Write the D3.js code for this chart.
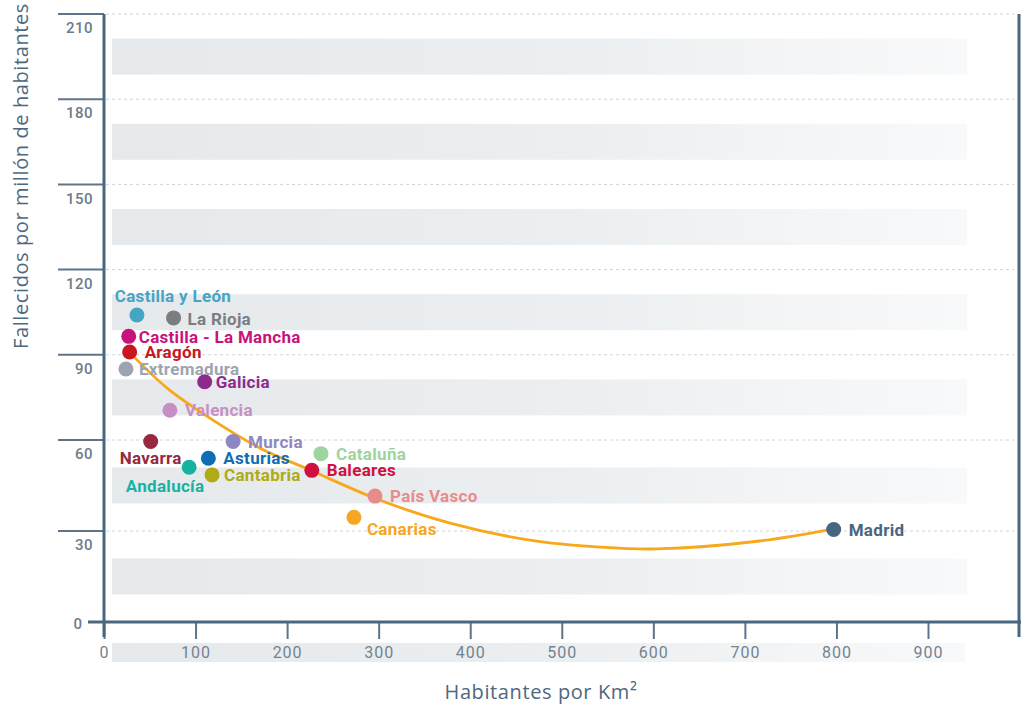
<!DOCTYPE html>
<html>
<head>
<meta charset="utf-8">
<script src="https://cdn.jsdelivr.net/npm/d3@7"></script>
<style>
  body { margin: 0; background: #fff; }
  svg { display: block; }
  .lbl { font-family: Roboto, sans-serif; font-weight: 700; font-size: 17px; letter-spacing: 0.3px; }
  .ytick { font-family: Roboto, sans-serif; font-weight: 500; font-size: 15px; fill: #6b7c8b; letter-spacing: 0.5px; }
  .xtick { font-family: Roboto, sans-serif; font-weight: 400; font-size: 16px; fill: #72838f; letter-spacing: 1px; }
  .title { font-family: "Open Sans", sans-serif; font-weight: 400; font-size: 20px; fill: #4e6880; letter-spacing: 0.6px; }
</style>
</head>
<body>
<svg id="chart" width="1024" height="707"></svg>
<script>
  // data
  var regions = ['Castilla y León', 'La Rioja', 'Castilla - La Mancha', 'Aragón', 'Extremadura',
    'Galicia', 'Valencia', 'Navarra', 'Murcia', 'Asturias', 'Andalucía', 'Cantabria',
    'Cataluña', 'Baleares', 'País Vasco', 'Canarias', 'Madrid'];
  var density = [36, 76, 27, 28, 24, 110, 72, 51, 141, 114, 93, 118, 237, 227, 296, 273, 797];
  var deaths = [104, 103, 96.5, 91, 85, 80.5, 70.5, 59.5, 59.5, 54, 51, 48.5, 55.5, 50, 41.5, 34.5, 30.5];

  // trend curve, points
  var trendX = [29, 70, 119, 170, 225, 301, 378, 465, 542, 604, 716, 797];
  var trendY = [90.5, 78, 67, 57.4, 50.1, 40.2, 32.6, 27, 24.7, 24.1, 26.7, 30.7];

  var xTicks = [0, 100, 200, 300, 400, 500, 600, 700, 800, 900];
  var yTicks = [30, 60, 90, 120, 150, 180, 210];

  var colors = {
    'Castilla y León': '#46a4c4', 'La Rioja': '#7b7d80', 'Castilla - La Mancha': '#c8127c',
    'Aragón': '#c8171e', 'Extremadura': '#9ba4b1', 'Galicia': '#8e2a8f', 'Valencia': '#c690c5',
    'Navarra': '#97283f', 'Murcia': '#8f87c1', 'Asturias': '#106db4', 'Andalucía': '#17b3a0',
    'Cantabria': '#b0aa17', 'Cataluña': '#9ed49d', 'Baleares': '#cf1141', 'País Vasco': '#e88b8b',
    'Canarias': '#f6a623', 'Madrid': '#486581'
  };

  // label offset from dot centre: [dx, dy, anchor]
  var placement = {
    'Castilla y León': [36, -19, 'middle'], 'Navarra': [0, 16, 'middle'],
    'Andalucía': [-24, 19, 'middle'], 'Canarias': [13, 12, 'start'],
    'Castilla - La Mancha': [10, 1, 'start'], 'Extremadura': [13, 0, 'start'],
    'Galicia': [11, 0, 'start'], 'Cantabria': [12, 0, 'start'], 'La Rioja': [14, 1, 'start']
  };
  var defaultPlacement = [15, 0, 'start'];

  var svg = d3.select('#chart');
  var axisColor = '#4b6680';

  var x = d3.scaleLinear().domain([0, 900]).range([104, 928]);
  // the original's grid is not evenly spaced at the bottom, so the scale is piecewise
  var y = d3.scaleLinear().domain([0, 30, 60, 210]).range([622, 531, 440, 14]);

  // gradient bands
  var grad = svg.append('defs').append('linearGradient')
      .attr('id', 'band').attr('x1', '0%').attr('x2', '100%');
  grad.append('stop').attr('offset', '0%').attr('stop-color', '#e5e9ec');
  grad.append('stop').attr('offset', '55%').attr('stop-color', '#eceff1');
  grad.append('stop').attr('offset', '100%').attr('stop-color', '#f8f9fa');

  var bandStarts = [0].concat(yTicks.slice(0, -1));
  svg.append('g').selectAll('rect')
      .data(bandStarts)
      .enter().append('rect')
      .attr('x', 112)
      .attr('width', 855)
      .attr('y', function (d) { return (y(d) + y(d + 30)) / 2 - 18; })
      .attr('height', 36)
      .attr('fill', 'url(#band)');

  // band behind the x tick labels
  svg.append('rect')
      .attr('x', 112).attr('y', 643).attr('width', 853).attr('height', 19)
      .attr('fill', 'url(#band)');

  // dotted grid lines
  svg.append('g').selectAll('line')
      .data(yTicks)
      .enter().append('line')
      .attr('x1', 106).attr('x2', 1014)
      .attr('y1', function (d) { return y(d); })
      .attr('y2', function (d) { return y(d); })
      .attr('stroke', '#cfd2d4')
      .attr('stroke-width', 1)
      .attr('stroke-dasharray', '3,3');

  // y tick marks and labels
  var yt = svg.append('g');
  yt.selectAll('line')
      .data(yTicks)
      .enter().append('line')
      .attr('x1', 58).attr('x2', 104)
      .attr('y1', function (d) { return y(d); })
      .attr('y2', function (d) { return y(d); })
      .attr('stroke', '#5d7489')
      .attr('stroke-width', 2);
  yt.selectAll('text')
      .data(yTicks)
      .enter().append('text')
      .attr('class', 'ytick')
      .attr('x', 93)
      .attr('y', function (d) { return y(d) + 14; })
      .attr('dy', '0.35em')
      .attr('text-anchor', 'end')
      .text(function (d) { return d; });
  yt.append('text')
      .attr('class', 'ytick')
      .attr('x', 78).attr('y', 624).attr('dy', '0.35em')
      .attr('text-anchor', 'middle')
      .text('0');

  // x axis
  var xAxis = d3.axisBottom(x).tickValues(xTicks).tickSize(17).tickPadding(0);
  var gx = svg.append('g')
      .attr('transform', 'translate(0,622)')
      .call(xAxis);
  gx.select('.domain').remove();
  gx.selectAll('.tick line').attr('stroke', '#5d7489').attr('stroke-width', 2);
  gx.selectAll('.tick text')
      .attr('class', 'xtick')
      .attr('y', 30)
      .attr('dy', '0.35em')
      .attr('fill', null);

  // axis lines
  svg.append('line').attr('x1', 88).attr('x2', 1021).attr('y1', 622).attr('y2', 622)
      .attr('stroke', axisColor).attr('stroke-width', 3);
  svg.append('line').attr('x1', 104).attr('x2', 104).attr('y1', 14).attr('y2', 637)
      .attr('stroke', axisColor).attr('stroke-width', 3);
  svg.append('line').attr('x1', 1019).attr('x2', 1019).attr('y1', 14).attr('y2', 637)
      .attr('stroke', axisColor).attr('stroke-width', 3);

  // trend line
  var trend = d3.zip(trendX, trendY);
  svg.append('path')
      .datum(trend)
      .attr('fill', 'none')
      .attr('stroke', '#f7a81b')
      .attr('stroke-width', 2.8)
      .attr('d', d3.line()
        .x(function (d) { return x(d[0]); })
        .y(function (d) { return y(d[1]); })
        .curve(d3.curveCatmullRom));

  // points
  var pts = regions.map(function (r, i) {
    return { name: r, dens: density[i], dead: deaths[i] };
  });

  var g = svg.append('g');
  g.selectAll('circle')
      .data(pts)
      .enter().append('circle')
      .attr('cx', function (d) { return x(d.dens); })
      .attr('cy', function (d) { return y(d.dead); })
      .attr('r', 7.5)
      .attr('fill', function (d) { return colors[d.name]; });

  g.selectAll('text')
      .data(pts)
      .enter().append('text')
      .attr('class', 'lbl')
      .attr('x', function (d) { return x(d.dens) + (placement[d.name] || defaultPlacement)[0]; })
      .attr('y', function (d) { return y(d.dead) + (placement[d.name] || defaultPlacement)[1]; })
      .attr('dy', '0.36em')
      .attr('text-anchor', function (d) { return (placement[d.name] || defaultPlacement)[2]; })
      .attr('fill', function (d) { return colors[d.name]; })
      .text(function (d) { return d.name; });

  // axis titles
  svg.append('text')
      .attr('class', 'title')
      .attr('x', 541).attr('y', 692).attr('dy', '0.35em')
      .attr('text-anchor', 'middle')
      .text('Habitantes por Km²');

  svg.append('text')
      .attr('class', 'title')
      .attr('transform', 'translate(21,176) rotate(-90)')
      .attr('dy', '0.35em')
      .attr('text-anchor', 'middle')
      .text('Fallecidos por millón de habitantes');
</script>
</body>
</html>
